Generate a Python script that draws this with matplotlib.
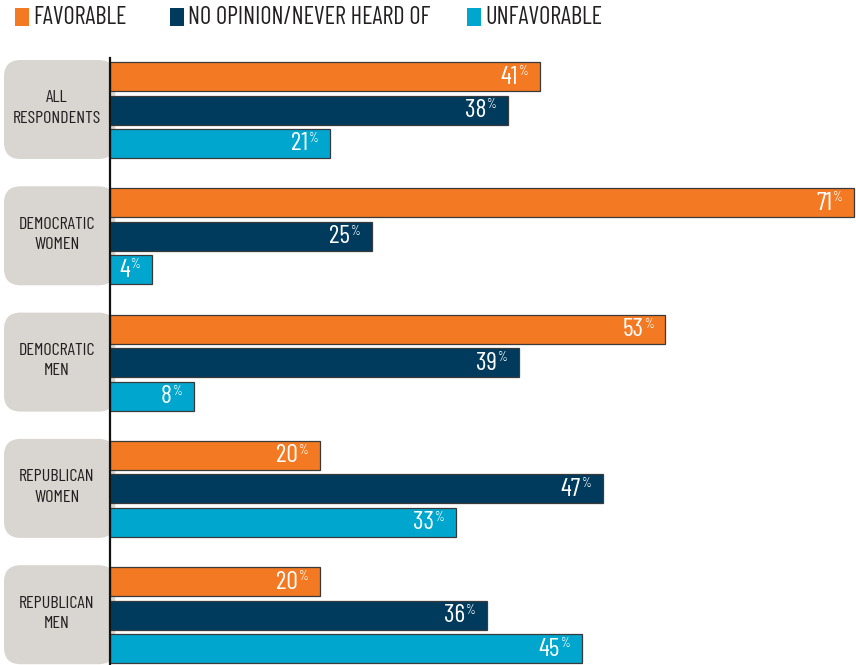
import matplotlib
matplotlib.use("Agg")
import matplotlib.pyplot as plt
from matplotlib.patches import FancyBboxPatch, Rectangle

plt.rcParams['font.family'] = ['Barlow Condensed', 'DejaVu Sans']

groups = ["ALL\nRESPONDENTS", "DEMOCRATIC\nWOMEN", "DEMOCRATIC\nMEN",
          "REPUBLICAN\nWOMEN", "REPUBLICAN\nMEN"]
series = ["FAVORABLE", "NO OPINION/NEVER HEARD OF", "UNFAVORABLE"]
favorable = [41, 71, 53, 20, 20]
no_opinion = [38, 25, 39, 47, 36]
unfavorable = [21, 4, 8, 33, 45]
colors = ["#f37923", "#003a5d", "#00a6ce"]
box_color = "#d9d5d0"

W, H = 856, 665
fig = plt.figure(figsize=(W / 100, H / 100), dpi=100)
ax = fig.add_axes([0, 0, 1, 1])
px = 10.48  # pixels per percent
ax.set_xlim(-110 / px, (W - 110) / px)
ax.set_ylim(H, 0)
ax.axis("off")

first_top = 62
group_pitch = 126.3
bar_pitch = 33.5
bar_h = 29
pt = 0.72  # points per pixel

for gi, vals in enumerate(zip(favorable, no_opinion, unfavorable)):
    gtop = first_top + gi * group_pitch
    # gray label box
    box = FancyBboxPatch((-106 / px, gtop - 2), 106 / px + 0.5, 2 * bar_pitch + bar_h + 3,
                         boxstyle="round,pad=0,rounding_size=1.6",
                         mutation_aspect=px, fc=box_color, ec="none", zorder=1)
    ax.add_patch(box)
    ax.text(-53 / px, gtop + bar_pitch + bar_h / 2 - 2, groups[gi], ha="center", va="center",
            fontsize=13, color="#231f20", linespacing=1.45, zorder=5)
    for si, v in enumerate(vals):
        yc = gtop + si * bar_pitch + bar_h / 2
        ax.barh(yc, v, height=bar_h, left=0, color=colors[si], edgecolor="#3a3a3a",
                linewidth=0.9, zorder=3)
        ax.annotate(str(v), (v, yc), xytext=(-22 * pt, -0.5 * pt), textcoords="offset points",
                    ha="right", va="center", fontsize=18.5,
                    color="white", zorder=6)
        ax.annotate("%", (v, yc), xytext=(-12 * pt, 5 * pt), textcoords="offset points",
                    ha="right", va="center", fontsize=9,
                    color="white", zorder=6)

ax.plot([0, 0], [58, H], color="#111111", lw=1.6, zorder=4)

# legend
leg_x = [15, 170, 467]
for c, name, lx in zip(colors, series, leg_x):
    fig.patches.append(Rectangle((lx / W, 1 - 26 / H), 14 / W, 18 / H,
                                 transform=fig.transFigure, fc=c, ec="none"))
    fig.text((lx + 18) / W, 1 - 18 / H, name, ha="left", va="center",
             fontsize=17.5, color="#231f20")

fig.savefig("out.png", dpi=100)
